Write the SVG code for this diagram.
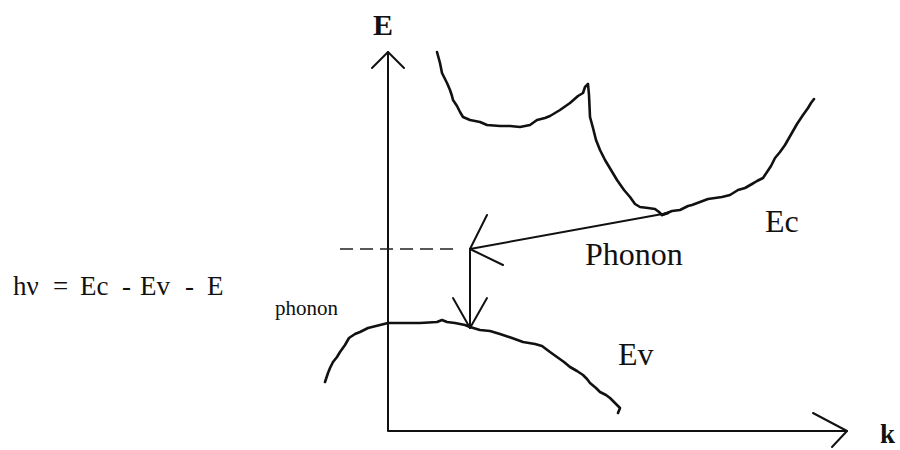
<svg xmlns="http://www.w3.org/2000/svg" width="900" height="450" viewBox="0 0 900 450">
<style>
.ln{fill:none;stroke:#111;stroke-width:2;stroke-linecap:round;stroke-linejoin:round}
.cv{fill:none;stroke:#111;stroke-width:2.6;stroke-linecap:round;stroke-linejoin:round}
.dash{fill:none;stroke:#222;stroke-width:1.5;stroke-dasharray:13 7}
.t{font-family:"Liberation Serif","Times New Roman",serif;fill:#111}
.b{font-weight:bold}
</style>
<rect width="900" height="450" fill="#fff"/>
<g id="axes">
<path class="ln" d="M388,52 L388,431 L847,431"/>
<path class="ln" d="M372,68 L388,52 L404,68"/>
<path class="ln" d="M813,413 L847,431 L832,447"/>
<text class="t b" x="373" y="35" font-size="30">E</text>
<text class="t b" x="880" y="443" font-size="27">k</text>
</g>
<g id="conduction-band">
<path class="cv" d="M437,52 L440,63 L442,73 L447,83 L450,90 L452,96 L453,100 L457,106 L460,112 L463,117 L470,120 L480,122 L487,125 L500,126 L510,126 L520,127 L530,125 L537,120 L545,118 L550,116 L560,110 L570,103 L578,96 L583,93 L585,87 L588,84 L589,95 L590,117 L593,128 L596,140 L600,150 L605,160 L611,170 L617,180 L624,190 L630,197 L635,204 L640,207 L648,208 L655,209 L659,212 L662,215 L668,213"/>
<path class="cv" d="M662,215 L672,211 L680,210 L688,206 L692,205 L700,202 L708,199 L715,198 L722,197 L730,195 L738,190 L745,188 L752,184 L757,181 L763,178 L767,172 L771,166 L775,158 L780,152 L785,145 L789,138 L793,131 L797,124 L803,115 L808,108 L811,103 L814,99"/>
<text class="t" x="765" y="232" font-size="32">Ec</text>
</g>
<g id="valence-band">
<path class="cv" d="M325,382 L328,373 L330,368 L333,362 L337,357 L340,352 L345,345 L349,338 L355,334 L360,332 L368,328 L380,325 L388,323 L400,323 L420,323 L437,322 L442,320 L447,322 L455,323 L465,325 L470,327 L480,330 L490,331 L500,334 L512,338 L523,342 L535,344 L542,346 L550,352 L557,357 L564,362 L570,367 L577,371 L583,375 L587,379 L590,383 L596,388 L600,392 L606,395 L610,398 L614,402 L617,405 L620,408 L618,413"/>
<text class="t" x="618" y="365" font-size="32">Ev</text>
</g>
<g id="connectors">
<path class="dash" d="M340,249 L456,249"/>
<path class="ln" d="M668,213 L470,249"/>
<path class="ln" d="M487,215 L470,249 L503,265"/>
<path class="ln" d="M470,249 L470,328"/>
<path class="ln" d="M453,298 L470,328 L487,298"/>
</g>
<g id="labels">
<text class="t" x="585" y="265" font-size="32">Phonon</text>
<text class="t" y="295" font-size="27"><tspan x="13">hν</tspan><tspan x="53">=</tspan><tspan x="80">Ec</tspan><tspan x="122">-</tspan><tspan x="140">Ev</tspan><tspan x="185">-</tspan><tspan x="207">E</tspan></text>
<text class="t" x="275" y="315" font-size="21">phonon</text>
</g>
</svg>
